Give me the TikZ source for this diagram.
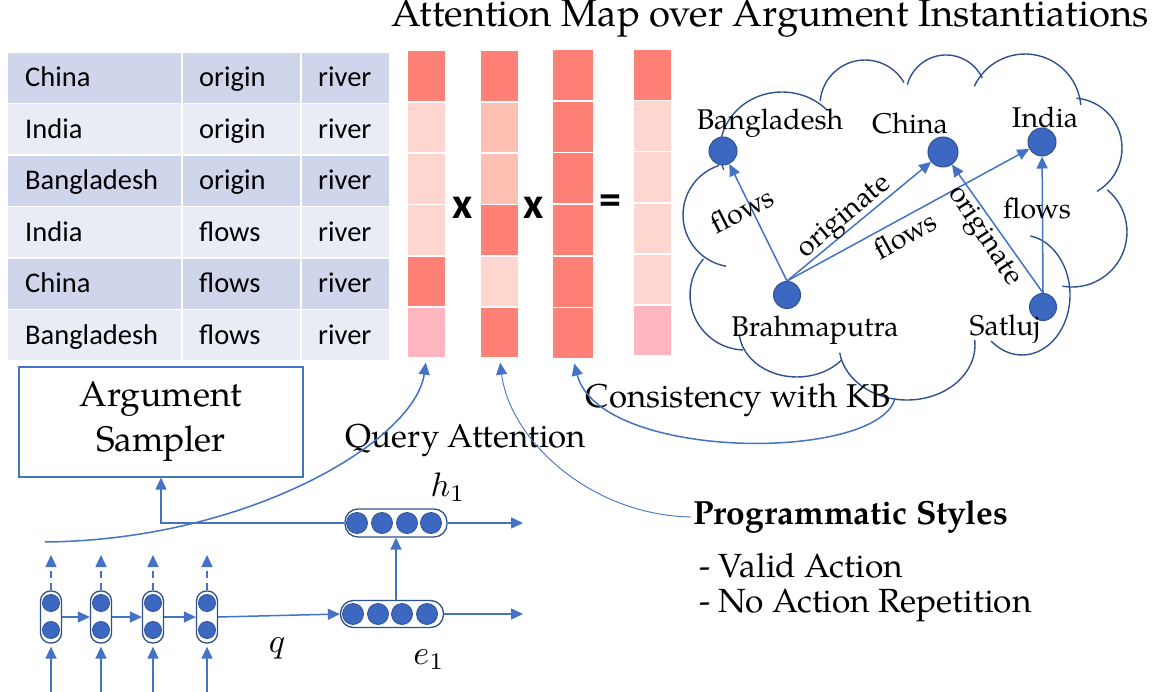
\documentclass[tikz,border=0pt]{standalone}
\usepackage{fontspec}
\setmainfont{TeX Gyre Pagella}
\newfontfamily\tabfont{Carlito}
\usetikzlibrary{arrows.meta,calc}
\definecolor{lblue}{HTML}{4472C4}
\definecolor{dblue}{HTML}{2F528F}
\definecolor{dotblue}{HTML}{3D68C2}
\definecolor{rowdark}{HTML}{CFD5EA}
\definecolor{rowlight}{HTML}{E9EBF5}
\definecolor{hotc}{HTML}{FF8077}
\definecolor{palec}{HTML}{FFD5D0}
\definecolor{midc}{HTML}{FFC0B4}
\definecolor{pinkc}{HTML}{FFB6C1}
\tikzset{
  cell/.style={rectangle, inner sep=0pt, minimum height=49.7pt},
  tabtxt/.style={anchor=base west, inner sep=0pt, font=\tabfont\fontsize{28.5}{30}\selectfont},
  att/.style={rectangle, inner sep=0pt, minimum width=37pt, minimum height=49.5pt},
  opsym/.style={font=\tabfont\bfseries\fontsize{44}{44}\selectfont, inner sep=0pt},
  conn/.style={draw=lblue, line width=1.5pt, -{Triangle[length=12pt,width=11pt]}},
  thinconn/.style={draw=lblue, line width=0.9pt, -{Triangle[length=12pt,width=11pt]}},
  cloudline/.style={draw=dblue, line width=1.4pt},
  gdot/.style={circle, fill=dotblue, draw=dblue, line width=1pt, minimum size=28pt, inner sep=0pt},
  glabel/.style={font=\fontsize{28.5}{30}\selectfont, inner sep=1pt},
  bigtxt/.style={font=\fontsize{33}{36}\selectfont, inner sep=0pt},
  caps/.style={rectangle, draw=dblue, line width=1.3pt, fill=white, inner sep=0pt},
  ndot/.style={circle, fill=dotblue, draw=dblue, line width=0.8pt, inner sep=0pt},
  mathlbl/.style={inner sep=0pt}
}
\begin{document}
\begin{tikzpicture}[x=1pt,y=-1pt]
\useasboundingbox (0,0) rectangle (1156,692);
\fill[white] (0,0) rectangle (1156,692);

% ---------- table ----------
\foreach \r/\a/\b/\fc in {1/China/origin/rowdark, 2/India/origin/rowlight, 3/Bangladesh/origin/rowdark, 4/India/flows/rowlight, 5/China/flows/rowdark, 6/Bangladesh/flows/rowlight} {
  \pgfmathsetmacro\yc{52.7+25+51.5*(\r-1)}
  \node[cell, fill=\fc, minimum width=173pt] (ta\r) at (94.5,\yc) {};
  \node[cell, fill=\fc, minimum width=117pt] (tb\r) at (241.5,\yc) {};
  \node[cell, fill=\fc, minimum width=87pt] (tc\r) at (345.5,\yc) {};
  \node[tabtxt] (xa\r) at (25,\yc+9) {\a};
  \node[tabtxt] (xb\r) at (199,\yc+9) {\b};
  \node[tabtxt] (xc\r) at (318,\yc+9) {river};
}

% ---------- attention columns ----------
\foreach \i/\ca/\cb/\cd in {1/hotc/hotc/hotc, 2/palec/midc/palec, 3/palec/midc/palec, 4/palec/hotc/palec, 5/hotc/palec/palec, 6/pinkc/hotc/pinkc} {
  \pgfmathsetmacro\ya{51.5+24.75+51.3*(\i-1)}
  \pgfmathsetmacro\ycc{50+25+51.7*(\i-1)}
  \pgfmathsetmacro\yd{50.3+24.75+51.1*(\i-1)}
  \node[att, fill=\ca] (colA\i) at (426.5,\ya) {};
  \node[att, fill=\cb] (colB\i) at (499.5,\ya) {};
  \node[att, fill=hotc, minimum width=40pt, minimum height=50pt] (colC\i) at (573,\ycc) {};
  \node[att, fill=\cd] (colD\i) at (652.5,\yd) {};
}
\node[opsym] (op1) at (463,208) {x};
\node[opsym] (op2) at (534,208) {x};
\node[opsym] (op3) at (610,205) {=};

% ---------- title ----------
\node[font=\fontsize{38.3}{42}\selectfont, inner sep=0pt] (title) at (770,19) {Attention Map over Argument Instantiations};

% ---------- cloud ----------
\foreach \cx/\cy/\rx/\ry/\sa/\ea in {
  782/150/62/58/160/317,
  865/105/45/45/185/330,
  946/95/40/40/195/335,
  1025/110/56/56/205/355,
  1072/148/50/50/-85/60,
  1072/232/55/55/-50/100,
  1022/295/48/60/-80/130,
  907/345/68/55/-5/172,
  797/330/58/47/40/175,
  745/295/55/55/92/221,
  735/215/52/52/100/252} {
  \draw[cloudline] ($(\cx,\cy)+({\rx*cos(\sa)},{\ry*sin(\sa)})$) arc[start angle=\sa, end angle=\ea, x radius=\rx, y radius=\ry];
}

% ---------- KB graph ----------
\node[gdot] (bang) at (723,151) {};
\node[gdot, minimum size=30pt] (china) at (943,152) {};
\node[gdot] (india) at (1042,142) {};
\node[gdot, minimum size=27pt] (brah) at (787,295) {};
\node[gdot, minimum size=27pt] (satluj) at (1043,307) {};

\node[glabel] (lbang) at (770,123) {Bangladesh};
\node[glabel] (lchina) at (910,123) {China};
\node[glabel] (lindia) at (1045,117) {India};
\node[glabel] (lbrah) at (815,330) {Brahmaputra};
\node[glabel] (lsat) at (1005,329) {Satluj};

\draw[conn] (brah.north) -- (bang);
\draw[conn] (brah.north) -- (china);
\draw[conn] (brah.north) -- (india);
\draw[conn] (satluj.north) -- (china);
\draw[conn] (satluj.north) -- (india);

\node[glabel, rotate=27] (e1lbl) at (742,210) {flows};
\node[glabel, rotate=40] (e2lbl) at (845,218) {originate};
\node[glabel, rotate=29] (e3lbl) at (905,235) {flows};
\node[glabel, rotate=-57] (e4lbl) at (983,237) {originate};
\node[glabel] (e5lbl) at (1037,208) {flows};

% ---------- texts ----------
\node[bigtxt] (kbtxt) at (738,400) {Consistency with KB};
\node[bigtxt] (qatxt) at (466,440) {Query Attention};
\node[rectangle, draw=lblue, line width=1.2pt, minimum width=284pt, minimum height=110pt, align=center, font=\fontsize{35.5}{45}\selectfont] (sampler) at (161,422) {Argument\\Sampler};

\node[font=\bfseries\fontsize{33.5}{36}\selectfont, inner sep=2pt, anchor=west] (prog) at (691,517) {Programmatic Styles};
\node[font=\fontsize{33.5}{36}\selectfont, inner sep=0pt, anchor=west] (va) at (699,566) {- Valid Action};
\node[font=\fontsize{33.5}{36}\selectfont, inner sep=0pt, anchor=west] (nar) at (699,605) {- No Action Repetition};

% ---------- connectors to the attention columns ----------
\coordinate (qa) at (45,542);
\coordinate (kb) at (895,398);
\draw[conn, shorten >=5pt] (qa) .. controls (250,540) and (415,440) .. (colA6.south);
\draw[thinconn, shorten >=5pt] (prog.west) .. controls (590,515) and (510,440) .. (colB6.south);
\draw[conn, shorten >=5pt] (kb) .. controls (880,462) and (600,462) .. (colC6.south);

% ---------- encoder ----------
\foreach \i/\x in {1/51, 2/101, 3/153, 4/207} {
  \node[caps, rounded corners=10pt, minimum width=21pt, minimum height=52pt] (s\i) at (\x,617) {};
  \node[ndot, minimum size=17pt] (s\i a) at (\x,603) {};
  \node[ndot, minimum size=17pt] (s\i b) at (\x,630) {};
  \coordinate (up\i) at (\x,555);
  \coordinate (in\i) at (\x,692);
  \draw[conn, dashed, dash pattern=on 7pt off 5pt] (s\i.north) -- (up\i);
  \draw[conn] (in\i) -- ([yshift=-3pt]s\i.south);
}
\draw[conn] (s1.east) -- (s2.west);
\draw[conn] (s2.east) -- (s3.west);
\draw[conn] (s3.east) -- (s4.west);

\node[caps, rounded corners=13pt, minimum width=103pt, minimum height=27pt] (e1) at (392,614) {};
\foreach \j/\x in {1/353, 2/378, 3/402, 4/427} {
  \node[ndot, minimum size=21pt] (e1d\j) at (\x,614) {};
}
\node[caps, rounded corners=13pt, minimum width=102pt, minimum height=28pt] (h1) at (396,523) {};
\foreach \j/\x in {1/357, 2/382, 3/407, 4/431} {
  \node[ndot, minimum size=21pt] (h1d\j) at (\x,523) {};
}
\draw[conn] (s4.east) -- (e1.west);
\draw[conn] (e1.north -| h1.south) -- (h1.south);
\draw[conn] (h1.west) -| (sampler.south);
\coordinate (h1out) at (523,523);
\coordinate (e1out) at (523,614);
\draw[conn] (h1.east) -- (h1out);
\draw[conn] (e1.east) -- (e1out);

\node[mathlbl] (qlbl) at (277,648) {\scalebox{3.4}{$q$}};
\node[mathlbl] (elbl) at (429,660) {\scalebox{3.4}{$e_1$}};
\node[mathlbl] (hlbl) at (448,487) {\scalebox{3.4}{$h_1$}};
\end{tikzpicture}
\end{document}
